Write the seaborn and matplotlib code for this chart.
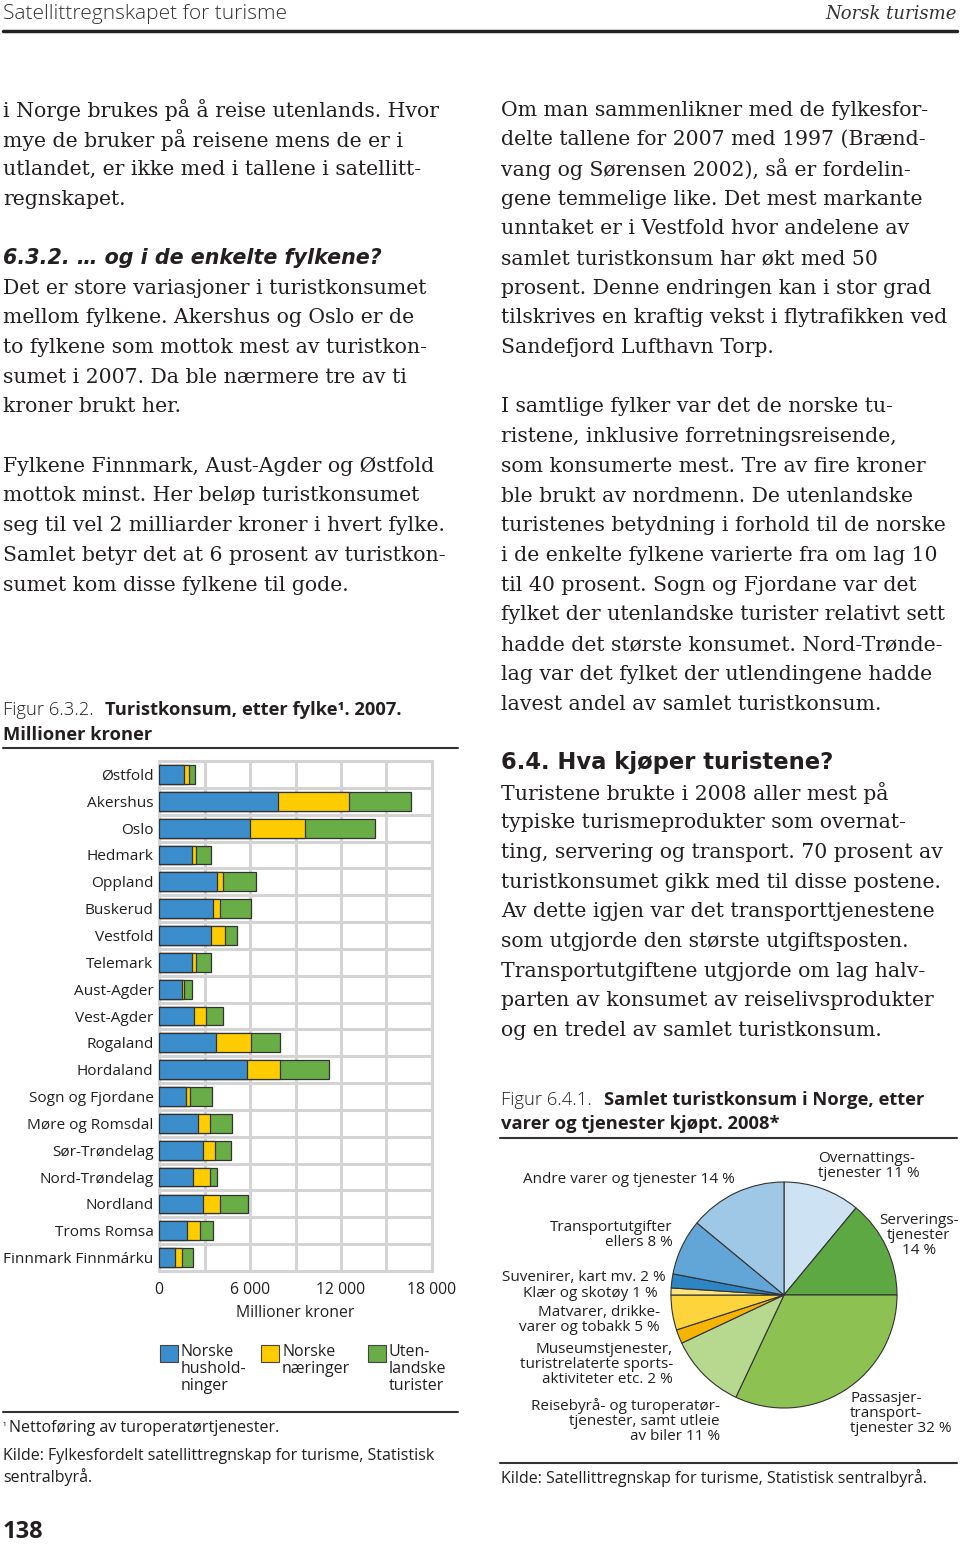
import numpy as np
import pandas as pd
import matplotlib.pyplot as plt
import seaborn as sns
from matplotlib.patches import Rectangle
from matplotlib.lines import Line2D

# ==============================
# 1. Data
# ==============================
fylker = ['Østfold', 'Akershus', 'Oslo', 'Hedmark', 'Oppland', 'Buskerud',
          'Vestfold', 'Telemark', 'Aust-Agder', 'Vest-Agder', 'Rogaland',
          'Hordaland', 'Sogn og Fjordane', 'Møre og Romsdal', 'Sør-Trøndelag',
          'Nord-Trøndelag', 'Nordland', 'Troms Romsa', 'Finnmark Finnmárku']
husholdninger = [1650, 7870, 6000, 2200, 3830, 3570, 3420, 2160, 1540, 2340,
                 3790, 5780, 1790, 2540, 2870, 2270, 2910, 1850, 1080]
naeringer = [330, 4670, 3640, 240, 380, 460, 950, 290, 110, 790,
             2270, 2180, 260, 810, 840, 1080, 1120, 880, 420]
utenlandske = [380, 4100, 4630, 1010, 2160, 2010, 770, 950, 530, 1060,
               1940, 3280, 1460, 1480, 1010, 490, 1850, 860, 710]
serie_navn = ['Norske\nhushold-\nninger', 'Norske\nnæringer', 'Uten-\nlandske\nturister']
serie_farger = ['#3b8dcb', '#ffcc00', '#68ad45']
x_ticks = [0, 6000, 12000, 18000]
x_ticklabels = ['0', '6 000', '12 000', '18 000']

pie_labels = ['Overnattingstjenester', 'Serveringstjenester', 'Passasjertransporttjenester',
              'Reisebyrå, turoperatør, bilutleie', 'Museum, sport etc.',
              'Matvarer, drikkevarer og tobakk', 'Klær og skotøy', 'Suvenirer, kart mv.',
              'Transportutgifter ellers', 'Andre varer og tjenester']
pie_values = [11, 14, 32, 11, 2, 5, 1, 2, 8, 14]
pie_colors = ['#cde2f2', '#5ea843', '#8dc253', '#b7d98f', '#f6b400',
              '#fdd43c', '#fde47c', '#2e85c3', '#62a6d8', '#9fc8e6']

df = pd.DataFrame({'fylke': fylker, 'hus': husholdninger,
                   'naer': naeringer, 'uten': utenlandske})
df['c1'] = df['hus']
df['c2'] = df['hus'] + df['naer']
df['c3'] = df['c2'] + df['uten']

# ==============================
# 2. Page setup
# ==============================
sns.set_theme(style='white')
plt.rcParams['font.family'] = ['Open Sans', 'DejaVu Sans']
W, H = 960, 1545
fig = plt.figure(figsize=(9.6, 15.45), dpi=100)
fig.patch.set_facecolor('white')


def fx(px):
    return px / W


def fy(py):
    return 1 - py / H


def hline(x0, x1, y, lw=1.5, color='#333333'):
    fig.add_artist(Line2D([fx(x0), fx(x1)], [fy(y), fy(y)], lw=lw, color=color,
                          transform=fig.transFigure))


TXT = '#231f20'
SERIF = ['DejaVu Serif']
HEAD = ['DejaVu Sans']
BODY = 14.7
LS = 29.7

# header
fig.text(fx(3), fy(14), 'Satellittregnskapet for turisme', fontsize=15, color='#333333',
         va='center', ha='left', fontweight='light')
fig.text(fx(957), fy(14), 'Norsk turisme', fontsize=13, color='#333333', va='center',
         ha='right', family=SERIF, style='italic')
hline(3, 957, 31, lw=2.5, color='#222222')


def body(lines, x, y0):
    for i, ln in enumerate(lines):
        if ln:
            fig.text(fx(x), fy(y0 + i * LS), ln, fontsize=BODY, family=SERIF,
                     color=TXT, va='center', ha='left')


body(['i Norge brukes på å reise utenlands. Hvor',
      'mye de bruker på reisene mens de er i',
      'utlandet, er ikke med i tallene i satellitt-',
      'regnskapet.'], 3, 110)
fig.text(fx(3), fy(258), '6.3.2. … og i de enkelte fylkene?', fontsize=14.9,
         family=HEAD, fontweight='bold', style='italic', color=TXT, va='center')
body(['Det er store variasjoner i turistkonsumet',
      'mellom fylkene. Akershus og Oslo er de',
      'to fylkene som mottok mest av turistkon-',
      'sumet i 2007. Da ble nærmere tre av ti',
      'kroner brukt her.',
      '',
      'Fylkene Finnmark, Aust-Agder og Østfold',
      'mottok minst. Her beløp turistkonsumet',
      'seg til vel 2 milliarder kroner i hvert fylke.',
      'Samlet betyr det at 6 prosent av turistkon-',
      'sumet kom disse fylkene til gode.'], 3, 288)

body(['Om man sammenlikner med de fylkesfor-',
      'delte tallene for 2007 med 1997 (Brænd-',
      'vang og Sørensen 2002), så er fordelin-',
      'gene temmelige like. Det mest markante',
      'unntaket er i Vestfold hvor andelene av',
      'samlet turistkonsum har økt med 50',
      'prosent. Denne endringen kan i stor grad',
      'tilskrives en kraftig vekst i flytrafikken ved',
      'Sandefjord Lufthavn Torp.',
      '',
      'I samtlige fylker var det de norske tu-',
      'ristene, inklusive forretningsreisende,',
      'som konsumerte mest. Tre av fire kroner',
      'ble brukt av nordmenn. De utenlandske',
      'turistenes betydning i forhold til de norske',
      'i de enkelte fylkene varierte fra om lag 10',
      'til 40 prosent. Sogn og Fjordane var det',
      'fylket der utenlandske turister relativt sett',
      'hadde det største konsumet. Nord-Trønde-',
      'lag var det fylket der utlendingene hadde',
      'lavest andel av samlet turistkonsum.'], 501, 110)
fig.text(fx(501), fy(763), '6.4. Hva kjøper turistene?', fontsize=16.3,
         family=HEAD, fontweight='bold', color=TXT, va='center')
body(['Turistene brukte i 2008 aller mest på',
      'typiske turismeprodukter som overnat-',
      'ting, servering og transport. 70 prosent av',
      'turistkonsumet gikk med til disse postene.',
      'Av dette igjen var det transporttjenestene',
      'som utgjorde den største utgiftsposten.',
      'Transportutgiftene utgjorde om lag halv-',
      'parten av konsumet av reiselivsprodukter',
      'og en tredel av samlet turistkonsum.'], 501, 793)

# ==============================
# 3. Figure 6.3.2 - stacked bars
# ==============================
CAP = 13.2
fig.text(fx(3), fy(710), 'Figur 6.3.2.', fontsize=CAP, color=TXT, va='center',
         fontweight='light')
fig.text(fx(105), fy(710), 'Turistkonsum, etter fylke¹. 2007.', fontsize=CAP,
         fontweight='bold', color=TXT, va='center')
fig.text(fx(3), fy(735), 'Millioner kroner', fontsize=CAP, fontweight='bold',
         color=TXT, va='center')
hline(3, 458, 748)

ax = fig.add_axes([fx(159), fy(1271), (432 - 159) / W, (1271 - 761) / H])
for col, color in zip(['c3', 'c2', 'c1'], serie_farger[::-1]):
    sns.barplot(data=df, x=col, y='fylke', orient='h', color=color, saturation=1,
                width=0.7, edgecolor='#333333', linewidth=0.9, ax=ax, zorder=3)

grid_c = '#d4d4d4'
ax.set_xlim(0, 18000)
ax.set_ylim(len(fylker) - 0.5, -0.5)
ax.set_xticks(x_ticks)
ax.set_xticklabels(x_ticklabels)
ax.set_xticks(np.arange(0, 18001, 3000), minor=True)
ax.set_yticks(np.arange(0.5, len(fylker) - 1, 1.0), minor=True)
ax.grid(which='minor', color=grid_c, lw=2.2, zorder=0)
ax.grid(which='major', axis='x', color=grid_c, lw=2.2, zorder=0)
ax.grid(which='major', axis='y', visible=False)
for s in ax.spines.values():
    s.set_visible(True)
    s.set_color(grid_c)
    s.set_linewidth(2.2)
ax.tick_params(which='both', length=0)
ax.tick_params(axis='x', pad=8, labelsize=11.3, labelcolor=TXT)
ax.tick_params(axis='y', pad=4, labelsize=11.1, labelcolor=TXT)
ax.set_ylabel('')
ax.set_xlabel('Millioner kroner', fontsize=11.3, color=TXT, labelpad=5)

# legend
leg_x = [160, 261, 368]
for lx, name, color in zip(leg_x, serie_navn, serie_farger):
    fig.add_artist(Rectangle((fx(lx), fy(1362)), 18 / W, 17 / H, facecolor=color,
                             edgecolor='#444444', lw=0.8, transform=fig.transFigure))
    fig.text(fx(lx + 21), fy(1344), name, fontsize=11.5, color=TXT, va='top',
             ha='left', linespacing=1.08)

hline(3, 458, 1412)
fig.text(fx(3), fy(1428), '¹', fontsize=7, color=TXT, va='center')
fig.text(fx(9), fy(1428), 'Nettoføring av turoperatørtjenester.', fontsize=11.5,
         color=TXT, va='center')
fig.text(fx(3), fy(1448), 'Kilde: Fylkesfordelt satellittregnskap for turisme, Statistisk\nsentralbyrå.',
         fontsize=11.5, color=TXT, va='top', linespacing=1.28)
fig.text(fx(3), fy(1532), '138', fontsize=17, fontweight='bold', color=TXT, va='center')

# ==============================
# 4. Figure 6.4.1 - pie
# ==============================
fig.text(fx(501), fy(1100), 'Figur 6.4.1.', fontsize=CAP, color=TXT, va='center',
         fontweight='light')
fig.text(fx(604), fy(1100), 'Samlet turistkonsum i Norge, etter', fontsize=CAP,
         fontweight='bold', color=TXT, va='center')
fig.text(fx(501), fy(1124), 'varer og tjenester kjøpt. 2008*', fontsize=CAP,
         fontweight='bold', color=TXT, va='center')
hline(500, 957, 1138)

R = 113
pad = 120
pax = fig.add_axes([fx(784 - pad), fy(1295 + pad), 2 * pad / W, 2 * pad / H])
pax.pie(pie_values, colors=pie_colors, startangle=90, counterclock=False,
        wedgeprops=dict(edgecolor='#333333', linewidth=0.8))
pax.set_xlim(-pad / R, pad / R)
pax.set_ylim(-pad / R, pad / R)
pax.set_aspect('equal')
pax.axis('off')

PL = 11
pie_text = [
    (818, 1151, 'left', 'Overnattings-\ntjenester 11 %'),
    (919, 1213, 'center', 'Serverings-\ntjenester\n14 %'),
    (735, 1172, 'right', 'Andre varer og tjenester 14 %'),
    (673, 1220, 'right', 'Transportutgifter\nellers 8 %'),
    (666, 1270, 'right', 'Suvenirer, kart mv. 2 %'),
    (658, 1286, 'right', 'Klær og skotøy 1 %'),
    (660, 1305, 'right', 'Matvarer, drikke-\nvarer og tobakk 5 %'),
    (673, 1342, 'right', 'Museumstjenester,\nturistrelaterte sports-\naktiviteter etc. 2 %'),
    (720, 1398, 'right', 'Reisebyrå- og turoperatør-\ntjenester, samt utleie\nav biler 11 %'),
    (850, 1391, 'left', 'Passasjer-\ntransport-\ntjenester 32 %'),
]
for px_, py_, ha, t in pie_text:
    fig.text(fx(px_), fy(py_), t, fontsize=PL, color=TXT, ha=ha, va='top',
             multialignment=ha, linespacing=0.98)

hline(500, 957, 1463)
fig.text(fx(501), fy(1478), 'Kilde: Satellittregnskap for turisme, Statistisk sentralbyrå.',
         fontsize=11.5, color=TXT, va='center')

fig.savefig('out.png', dpi=100, facecolor='white')
